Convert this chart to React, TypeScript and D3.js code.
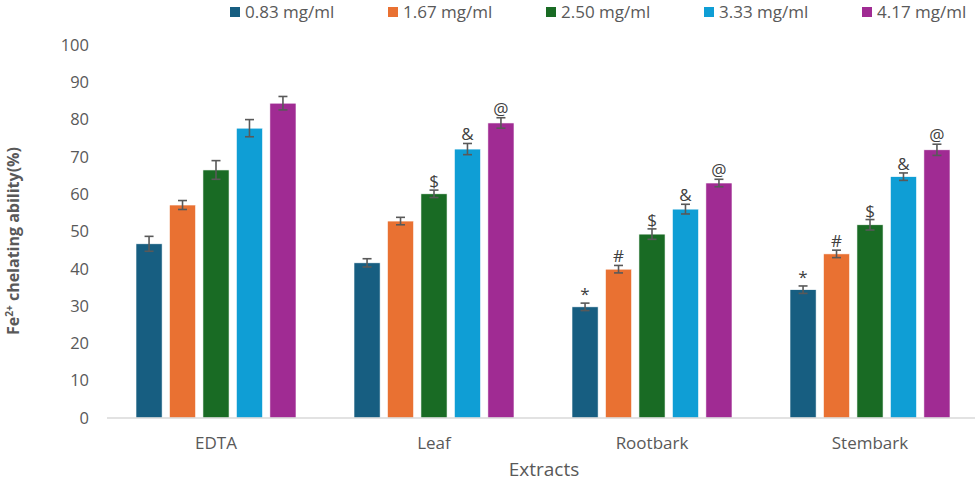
import * as d3 from 'd3';

const extracts = ['EDTA', 'Leaf', 'Rootbark', 'Stembark'];
const doses = ['0.83 mg/ml', '1.67 mg/ml', '2.50 mg/ml', '3.33 mg/ml', '4.17 mg/ml'];
const doseColors = ['#175E81', '#E97132', '#196B24', '#0F9ED5', '#A02B93'];

// mean chelating ability per extract, one entry per dose
const edtaValues = [46.7, 57.1, 66.5, 77.7, 84.4];
const leafValues = [41.6, 52.8, 60.1, 72.1, 79.1];
const rootbarkValues = [29.8, 39.9, 49.3, 56.0, 63.0];
const stembarkValues = [34.4, 44.0, 51.8, 64.7, 71.9];

// error (SD) per extract
const edtaErrors = [2.0, 1.2, 2.5, 2.3, 1.8];
const leafErrors = [1.1, 1.0, 1.0, 1.5, 1.4];
const rootbarkErrors = [1.0, 1.0, 1.4, 1.3, 1.0];
const stembarkErrors = [1.0, 1.0, 1.4, 1.0, 1.5];

// significance markers
const edtaMarks = ['', '', '', '', ''];
const leafMarks = ['', '', '$', '&', '@'];
const rootbarkMarks = ['*', '#', '$', '&', '@'];
const stembarkMarks = ['*', '#', '$', '&', '@'];

const yTicks = [0, 10, 20, 30, 40, 50, 60, 70, 80, 90, 100];

const seriesValues = [edtaValues, leafValues, rootbarkValues, stembarkValues];
const seriesErrors = [edtaErrors, leafErrors, rootbarkErrors, stembarkErrors];
const seriesMarks = [edtaMarks, leafMarks, rootbarkMarks, stembarkMarks];

const WIDTH = 975;
const HEIGHT = 482;
const PLOT = { left: 107, right: 979, top: 45, bottom: 418 };
const FONT = "'Open Sans', 'Liberation Sans', sans-serif";
const TEXT = '#595959';

export default function App() {
  const x0 = d3
    .scaleBand<string>()
    .domain(extracts)
    .range([PLOT.left, PLOT.right])
    .paddingInner(0)
    .paddingOuter(0);

  const groupPad = 29;
  const x1 = d3
    .scaleBand<string>()
    .domain(doses)
    .range([groupPad, x0.bandwidth() - groupPad])
    .paddingInner(0.22)
    .paddingOuter(0);

  const y = d3.scaleLinear().domain([0, 100]).range([PLOT.bottom, PLOT.top]);

  const legendX = d3.scalePoint<string>().domain(doses).range([230, 862]);

  return (
    <svg
      width={WIDTH}
      height={HEIGHT}
      viewBox={`0 0 ${WIDTH} ${HEIGHT}`}
      style={{ position: 'absolute', left: 0, top: 0, background: '#fff' }}
      fontFamily={FONT}
    >
      {/* Legend */}
      {doses.map((d, i) => (
        <g key={`leg-${i}`}>
          <rect x={legendX(d) ?? 0} y={7} width={10} height={10} fill={doseColors[i]} />
          <text x={(legendX(d) ?? 0) + 15} y={18} fontSize={17} fill={TEXT}>
            {d}
          </text>
        </g>
      ))}

      {/* Y ticks */}
      {yTicks.map(t => (
        <text
          key={`yt-${t}`}
          x={89}
          y={y(t)}
          dy="0.35em"
          textAnchor="end"
          fontSize={16.5}
          fill={TEXT}
        >
          {t}
        </text>
      ))}

      {/* Y title */}
      <text
        transform={`translate(19, 241) rotate(-90)`}
        textAnchor="middle"
        fontSize={16}
        fontWeight={700}
        fill={TEXT}
      >
        Fe
        <tspan dy={-6} fontSize={10}>
          2+
        </tspan>
        <tspan dy={6}> chelating ability(%)</tspan>
      </text>

      {/* Bars */}
      {extracts.map((ex, g) => {
        const gx = x0(ex) ?? 0;
        return (
          <g key={`grp-${ex}`} transform={`translate(${gx},0)`}>
            {doses.map((d, i) => {
              const v = seriesValues[g][i];
              const e = seriesErrors[g][i];
              const bx = x1(d) ?? 0;
              const cx = bx + x1.bandwidth() / 2;
              const mark = seriesMarks[g][i];
              return (
                <g key={`bar-${g}-${i}`}>
                  <rect
                    x={bx}
                    y={y(v)}
                    width={x1.bandwidth()}
                    height={y(0) - y(v)}
                    fill={doseColors[i]}
                    stroke="#fff"
                    strokeWidth={0.6}
                  />
                  <g stroke="#595959" strokeWidth={1.6}>
                    <line x1={cx} x2={cx} y1={y(v + e)} y2={y(v - e)} />
                    <line x1={cx - 4.5} x2={cx + 4.5} y1={y(v + e)} y2={y(v + e)} />
                    <line x1={cx - 4.5} x2={cx + 4.5} y1={y(v - e)} y2={y(v - e)} />
                  </g>
                  {mark && (
                    <text
                      x={cx}
                      y={y(v + e) - 3}
                      textAnchor="middle"
                      fontSize={17}
                      fill="#404040"
                    >
                      {mark}
                    </text>
                  )}
                </g>
              );
            })}
          </g>
        );
      })}

      {/* X axis line */}
      <line
        x1={PLOT.left}
        x2={WIDTH}
        y1={y(0)}
        y2={y(0)}
        stroke="#D9D9D9"
        strokeWidth={1.5}
      />

      {/* X category labels */}
      {extracts.map(ex => (
        <text
          key={`xl-${ex}`}
          x={(x0(ex) ?? 0) + x0.bandwidth() / 2}
          y={449}
          textAnchor="middle"
          fontSize={17}
          fill={TEXT}
        >
          {ex}
        </text>
      ))}

      <text x={544} y={476} textAnchor="middle" fontSize={19} fill={TEXT}>
        Extracts
      </text>
    </svg>
  );
}
